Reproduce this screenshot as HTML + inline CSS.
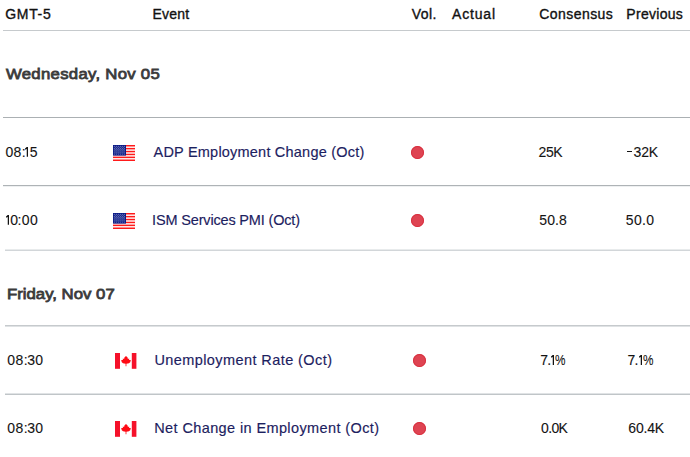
<!DOCTYPE html>
<html><head><meta charset="utf-8"><style>
html,body{margin:0;padding:0;background:#fff;}
body{width:690px;height:457px;position:relative;overflow:hidden;font-family:"Liberation Sans",sans-serif;}
.t{position:absolute;white-space:nowrap;line-height:1;}
.g{position:absolute;top:0;transform-origin:0 0;}
.ln{position:absolute;right:0;height:1px;background:#c6cacd;}
.dot{position:absolute;width:13px;height:13px;border-radius:50%;background:#de4452;box-shadow:inset 0 0 0 1px #d8303f;}
.fl{position:absolute;width:22px;height:16px;}
.fl svg{display:block;}
</style></head><body>
<div class="ln" style="left:3px;top:30px;"></div>
<div class="ln" style="left:3px;top:117px;background:#abb0b3;"></div>
<div class="ln" style="left:3px;top:185px;background:#aeb3b6;"></div>
<div class="ln" style="left:3px;top:186px;background:#eef0f1;"></div>
<div class="ln" style="left:5px;top:249px;background:#e8ebec;"></div>
<div class="ln" style="left:5px;top:250px;background:#d2d6d9;"></div>
<div class="ln" style="left:5px;top:325px;background:#c6cacd;"></div>
<div class="ln" style="left:5px;top:326px;background:#dfe2e4;"></div>
<div class="ln" style="left:5px;top:393px;background:#e0e3e5;"></div>
<div class="ln" style="left:5px;top:394px;background:#c0c5c8;"></div>
<div class="fl" style="left:113px;top:145px;"><svg width="22" height="16" viewBox="0 0 22 16"><rect x="0" y="0" width="22" height="16" fill="#fff"/>
<g fill="#ff1a1a"><rect x="0" y="0" width="22" height="1.5"/><rect x="0" y="2.9" width="22" height="1.5"/><rect x="0" y="5.8" width="22" height="1.5"/><rect x="0" y="8.7" width="22" height="1.5"/><rect x="0" y="11.6" width="22" height="1.5"/><rect x="0" y="14.5" width="22" height="1.5"/></g>
<rect x="0" y="0" width="13" height="10.6" fill="#0a1a86"/>
<g fill="#ffffff" opacity="0.6"><circle cx="1.3" cy="1.3" r="0.5"/><circle cx="3.3" cy="1.3" r="0.5"/><circle cx="5.3" cy="1.3" r="0.5"/><circle cx="7.3" cy="1.3" r="0.5"/><circle cx="9.3" cy="1.3" r="0.5"/><circle cx="11.3" cy="1.3" r="0.5"/><circle cx="2.3" cy="2.2" r="0.45"/><circle cx="4.3" cy="2.2" r="0.45"/><circle cx="6.3" cy="2.2" r="0.45"/><circle cx="8.3" cy="2.2" r="0.45"/><circle cx="10.3" cy="2.2" r="0.45"/><circle cx="1.3" cy="3.2" r="0.5"/><circle cx="3.3" cy="3.2" r="0.5"/><circle cx="5.3" cy="3.2" r="0.5"/><circle cx="7.3" cy="3.2" r="0.5"/><circle cx="9.3" cy="3.2" r="0.5"/><circle cx="11.3" cy="3.2" r="0.5"/><circle cx="2.3" cy="4.2" r="0.45"/><circle cx="4.3" cy="4.2" r="0.45"/><circle cx="6.3" cy="4.2" r="0.45"/><circle cx="8.3" cy="4.2" r="0.45"/><circle cx="10.3" cy="4.2" r="0.45"/><circle cx="1.3" cy="5.1" r="0.5"/><circle cx="3.3" cy="5.1" r="0.5"/><circle cx="5.3" cy="5.1" r="0.5"/><circle cx="7.3" cy="5.1" r="0.5"/><circle cx="9.3" cy="5.1" r="0.5"/><circle cx="11.3" cy="5.1" r="0.5"/><circle cx="2.3" cy="6.0" r="0.45"/><circle cx="4.3" cy="6.0" r="0.45"/><circle cx="6.3" cy="6.0" r="0.45"/><circle cx="8.3" cy="6.0" r="0.45"/><circle cx="10.3" cy="6.0" r="0.45"/><circle cx="1.3" cy="7.0" r="0.5"/><circle cx="3.3" cy="7.0" r="0.5"/><circle cx="5.3" cy="7.0" r="0.5"/><circle cx="7.3" cy="7.0" r="0.5"/><circle cx="9.3" cy="7.0" r="0.5"/><circle cx="11.3" cy="7.0" r="0.5"/><circle cx="2.3" cy="7.9" r="0.45"/><circle cx="4.3" cy="7.9" r="0.45"/><circle cx="6.3" cy="7.9" r="0.45"/><circle cx="8.3" cy="7.9" r="0.45"/><circle cx="10.3" cy="7.9" r="0.45"/><circle cx="1.3" cy="8.9" r="0.5"/><circle cx="3.3" cy="8.9" r="0.5"/><circle cx="5.3" cy="8.9" r="0.5"/><circle cx="7.3" cy="8.9" r="0.5"/><circle cx="9.3" cy="8.9" r="0.5"/><circle cx="11.3" cy="8.9" r="0.5"/></g>
</svg></div>
<div class="fl" style="left:113px;top:213px;"><svg width="22" height="16" viewBox="0 0 22 16"><rect x="0" y="0" width="22" height="16" fill="#fff"/>
<g fill="#ff1a1a"><rect x="0" y="0" width="22" height="1.5"/><rect x="0" y="2.9" width="22" height="1.5"/><rect x="0" y="5.8" width="22" height="1.5"/><rect x="0" y="8.7" width="22" height="1.5"/><rect x="0" y="11.6" width="22" height="1.5"/><rect x="0" y="14.5" width="22" height="1.5"/></g>
<rect x="0" y="0" width="13" height="10.6" fill="#0a1a86"/>
<g fill="#ffffff" opacity="0.6"><circle cx="1.3" cy="1.3" r="0.5"/><circle cx="3.3" cy="1.3" r="0.5"/><circle cx="5.3" cy="1.3" r="0.5"/><circle cx="7.3" cy="1.3" r="0.5"/><circle cx="9.3" cy="1.3" r="0.5"/><circle cx="11.3" cy="1.3" r="0.5"/><circle cx="2.3" cy="2.2" r="0.45"/><circle cx="4.3" cy="2.2" r="0.45"/><circle cx="6.3" cy="2.2" r="0.45"/><circle cx="8.3" cy="2.2" r="0.45"/><circle cx="10.3" cy="2.2" r="0.45"/><circle cx="1.3" cy="3.2" r="0.5"/><circle cx="3.3" cy="3.2" r="0.5"/><circle cx="5.3" cy="3.2" r="0.5"/><circle cx="7.3" cy="3.2" r="0.5"/><circle cx="9.3" cy="3.2" r="0.5"/><circle cx="11.3" cy="3.2" r="0.5"/><circle cx="2.3" cy="4.2" r="0.45"/><circle cx="4.3" cy="4.2" r="0.45"/><circle cx="6.3" cy="4.2" r="0.45"/><circle cx="8.3" cy="4.2" r="0.45"/><circle cx="10.3" cy="4.2" r="0.45"/><circle cx="1.3" cy="5.1" r="0.5"/><circle cx="3.3" cy="5.1" r="0.5"/><circle cx="5.3" cy="5.1" r="0.5"/><circle cx="7.3" cy="5.1" r="0.5"/><circle cx="9.3" cy="5.1" r="0.5"/><circle cx="11.3" cy="5.1" r="0.5"/><circle cx="2.3" cy="6.0" r="0.45"/><circle cx="4.3" cy="6.0" r="0.45"/><circle cx="6.3" cy="6.0" r="0.45"/><circle cx="8.3" cy="6.0" r="0.45"/><circle cx="10.3" cy="6.0" r="0.45"/><circle cx="1.3" cy="7.0" r="0.5"/><circle cx="3.3" cy="7.0" r="0.5"/><circle cx="5.3" cy="7.0" r="0.5"/><circle cx="7.3" cy="7.0" r="0.5"/><circle cx="9.3" cy="7.0" r="0.5"/><circle cx="11.3" cy="7.0" r="0.5"/><circle cx="2.3" cy="7.9" r="0.45"/><circle cx="4.3" cy="7.9" r="0.45"/><circle cx="6.3" cy="7.9" r="0.45"/><circle cx="8.3" cy="7.9" r="0.45"/><circle cx="10.3" cy="7.9" r="0.45"/><circle cx="1.3" cy="8.9" r="0.5"/><circle cx="3.3" cy="8.9" r="0.5"/><circle cx="5.3" cy="8.9" r="0.5"/><circle cx="7.3" cy="8.9" r="0.5"/><circle cx="9.3" cy="8.9" r="0.5"/><circle cx="11.3" cy="8.9" r="0.5"/></g>
</svg></div>
<div class="fl" style="left:115px;top:353px;"><svg width="22" height="16" viewBox="0 0 22 16">
<rect x="0" y="0" width="5" height="15.8" fill="#f5112a"/><rect x="16.8" y="0" width="4.6" height="15.8" fill="#f5112a"/>
<path fill="#ff0a14" d="M11 3 L12.6 4.6 L12.9 6.1 L14.2 5.6 L14.1 6.9 L16.0 6.9 L15.2 8.2 L15.7 8.8 L14 10.2 L11.4 10.8 L11.4 13.2 L10.6 13.2 L10.6 10.8 L8 10.2 L6.3 8.8 L6.8 8.2 L6.0 6.9 L7.9 6.9 L7.8 5.6 L9.1 6.1 L9.4 4.6 Z"/>
</svg></div>
<div class="fl" style="left:115px;top:421px;"><svg width="22" height="16" viewBox="0 0 22 16">
<rect x="0" y="0" width="5" height="15.8" fill="#f5112a"/><rect x="16.8" y="0" width="4.6" height="15.8" fill="#f5112a"/>
<path fill="#ff0a14" d="M11 3 L12.6 4.6 L12.9 6.1 L14.2 5.6 L14.1 6.9 L16.0 6.9 L15.2 8.2 L15.7 8.8 L14 10.2 L11.4 10.8 L11.4 13.2 L10.6 13.2 L10.6 10.8 L8 10.2 L6.3 8.8 L6.8 8.2 L6.0 6.9 L7.9 6.9 L7.8 5.6 L9.1 6.1 L9.4 4.6 Z"/>
</svg></div>
<div class="dot" style="left:411px;top:145.6px;"></div>
<div class="dot" style="left:411px;top:213.8px;"></div>
<div class="dot" style="left:413px;top:354px;"></div>
<div class="dot" style="left:413px;top:422.1px;"></div>
<span id="t0" class="t" style="left:5.30px;top:7.15px;letter-spacing:0.650px;font-size:14px;color:#111111;font-weight:400;-webkit-text-stroke:0.35px #111111">GMT-5</span>
<span id="t1" class="t" style="left:152.50px;top:7.15px;letter-spacing:0.200px;font-size:14px;color:#111111;font-weight:400;-webkit-text-stroke:0.35px #111111">Event</span>
<span id="t2" class="t" style="left:411.80px;top:7.15px;letter-spacing:0.400px;font-size:14px;color:#111111;font-weight:400;-webkit-text-stroke:0.35px #111111">Vol.</span>
<span id="t3" class="t" style="left:452.00px;top:7.15px;letter-spacing:0.840px;font-size:14px;color:#111111;font-weight:400;-webkit-text-stroke:0.35px #111111">Actual</span>
<span id="t4" class="t" style="left:539.20px;top:7.15px;letter-spacing:0.450px;font-size:14px;color:#111111;font-weight:400;-webkit-text-stroke:0.35px #111111">Consensus</span>
<span id="t5" class="t" style="left:626.30px;top:7.15px;letter-spacing:0.300px;font-size:14px;color:#111111;font-weight:400;-webkit-text-stroke:0.35px #111111">Previous</span>
<span id="t6" class="t" style="left:5.66px;top:65.98px;letter-spacing:0.261px;font-size:15.5px;color:#3b3b3b;font-weight:400;-webkit-text-stroke:0.8px #3b3b3b;transform:scaleX(1.08);transform-origin:0 0">Wednesday, Nov 05</span>
<span id="t7" class="t" style="left:7.18px;top:285.98px;letter-spacing:0.006px;font-size:15.5px;color:#3b3b3b;font-weight:400;-webkit-text-stroke:0.8px #3b3b3b;transform:scaleX(1.08);transform-origin:0 0">Friday, Nov 07</span>
<span id="t8" class="t" style="left:5.90px;top:144.85px;width:40px;height:14px;font-size:14px;color:#141414;font-weight:400;-webkit-text-stroke:0.1px #141414"><span class="g" style="left:-0.45px">0</span><span class="g" style="left:7.55px">8</span><span class="g" style="left:15.80px">:</span><svg class="g" style="left:19.20px;top:2.05px" width="3.2" height="9.80" viewBox="0 0 3.2 9.80"><path fill="#141414" d="M1.75 0 H3.15 V9.80 H1.75 V2.1 L0.2 2.8 L0 1.5 Z"/></svg><span class="g" style="left:23.75px">5</span></span>
<span id="t9" class="t" style="left:153.50px;top:145.23px;letter-spacing:0.212px;font-size:14.5px;color:#1c2160;font-weight:400;-webkit-text-stroke:0.15px #1c2160">ADP Employment Change (Oct)</span>
<span id="t10" class="t" style="left:538.50px;top:144.85px;letter-spacing:-0.400px;font-size:14px;color:#141414;font-weight:400;-webkit-text-stroke:0.1px #141414">25K</span>
<span id="t11" class="t" style="left:627.40px;top:144.85px;width:40px;height:14px;font-size:14px;color:#141414;font-weight:400;-webkit-text-stroke:0.1px #141414"><span class="g" style="left:-0.20px;top:6.05px;width:5.2px;height:1.3px;background:#141414"></span><span class="g" style="left:6.07px">3</span><span class="g" style="left:13.80px">2</span><span class="g" style="left:21.45px">K</span></span>
<span id="t12" class="t" style="left:5.70px;top:212.80px;width:40px;height:14px;font-size:14px;color:#141414;font-weight:400;-webkit-text-stroke:0.1px #141414"><svg class="g" style="left:-0.20px;top:2.00px" width="3.2" height="9.85" viewBox="0 0 3.2 9.85"><path fill="#141414" d="M1.75 0 H3.15 V9.85 H1.75 V2.1 L0.2 2.8 L0 1.5 Z"/></svg><span class="g" style="left:4.45px">0</span><span class="g" style="left:11.70px">:</span><span class="g" style="left:16.05px">0</span><span class="g" style="left:24.25px">0</span></span>
<span id="t13" class="t" style="left:152.10px;top:213.18px;letter-spacing:-0.167px;font-size:14.5px;color:#1c2160;font-weight:400;-webkit-text-stroke:0.15px #1c2160">ISM Services PMI (Oct)</span>
<span id="t14" class="t" style="left:539.30px;top:212.80px;letter-spacing:0.100px;font-size:14px;color:#141414;font-weight:400;-webkit-text-stroke:0.1px #141414">50.8</span>
<span id="t15" class="t" style="left:625.80px;top:212.80px;letter-spacing:0.367px;font-size:14px;color:#141414;font-weight:400;-webkit-text-stroke:0.1px #141414">50.0</span>
<span id="t16" class="t" style="left:7.80px;top:352.85px;width:40px;height:14px;font-size:14px;color:#141414;font-weight:400;-webkit-text-stroke:0.1px #141414"><span class="g" style="left:-0.45px">0</span><span class="g" style="left:7.65px">8</span><span class="g" style="left:15.90px">:</span><span class="g" style="left:19.57px">3</span><span class="g" style="left:27.35px">0</span></span>
<span id="t17" class="t" style="left:154.40px;top:353.23px;letter-spacing:0.418px;font-size:14.5px;color:#1c2160;font-weight:400;-webkit-text-stroke:0.15px #1c2160">Unemployment Rate (Oct)</span>
<span id="t18" class="t" style="left:540.90px;top:352.85px;width:40px;height:14px;font-size:14px;color:#141414;font-weight:400;-webkit-text-stroke:0.1px #141414"><span class="g" style="left:-0.72px">7</span><span class="g" style="left:6.42px">.</span><svg class="g" style="left:10.30px;top:1.95px" width="3.2" height="9.90" viewBox="0 0 3.2 9.90"><path fill="#141414" d="M1.75 0 H3.15 V9.90 H1.75 V2.1 L0.2 2.8 L0 1.5 Z"/></svg><span class="g" style="left:14.38px;transform:scaleX(0.84)">%</span></span>
<span id="t19" class="t" style="left:628.20px;top:352.85px;width:40px;height:14px;font-size:14px;color:#141414;font-weight:400;-webkit-text-stroke:0.1px #141414"><span class="g" style="left:-0.72px">7</span><span class="g" style="left:6.32px">.</span><svg class="g" style="left:10.50px;top:1.95px" width="3.2" height="9.90" viewBox="0 0 3.2 9.90"><path fill="#141414" d="M1.75 0 H3.15 V9.90 H1.75 V2.1 L0.2 2.8 L0 1.5 Z"/></svg><span class="g" style="left:14.58px;transform:scaleX(0.84)">%</span></span>
<span id="t20" class="t" style="left:7.80px;top:420.85px;width:40px;height:14px;font-size:14px;color:#141414;font-weight:400;-webkit-text-stroke:0.1px #141414"><span class="g" style="left:-0.45px">0</span><span class="g" style="left:7.65px">8</span><span class="g" style="left:15.90px">:</span><span class="g" style="left:19.57px">3</span><span class="g" style="left:27.35px">0</span></span>
<span id="t21" class="t" style="left:154.24px;top:421.23px;letter-spacing:0.388px;font-size:14.5px;color:#1c2160;font-weight:400;-webkit-text-stroke:0.15px #1c2160">Net Change in Employment (Oct)</span>
<span id="t22" class="t" style="left:541.00px;top:420.85px;letter-spacing:-0.633px;font-size:14px;color:#141414;font-weight:400;-webkit-text-stroke:0.1px #141414">0.0K</span>
<span id="t23" class="t" style="left:628.30px;top:420.85px;letter-spacing:-0.200px;font-size:14px;color:#141414;font-weight:400;-webkit-text-stroke:0.1px #141414">60.4K</span>
</body></html>
